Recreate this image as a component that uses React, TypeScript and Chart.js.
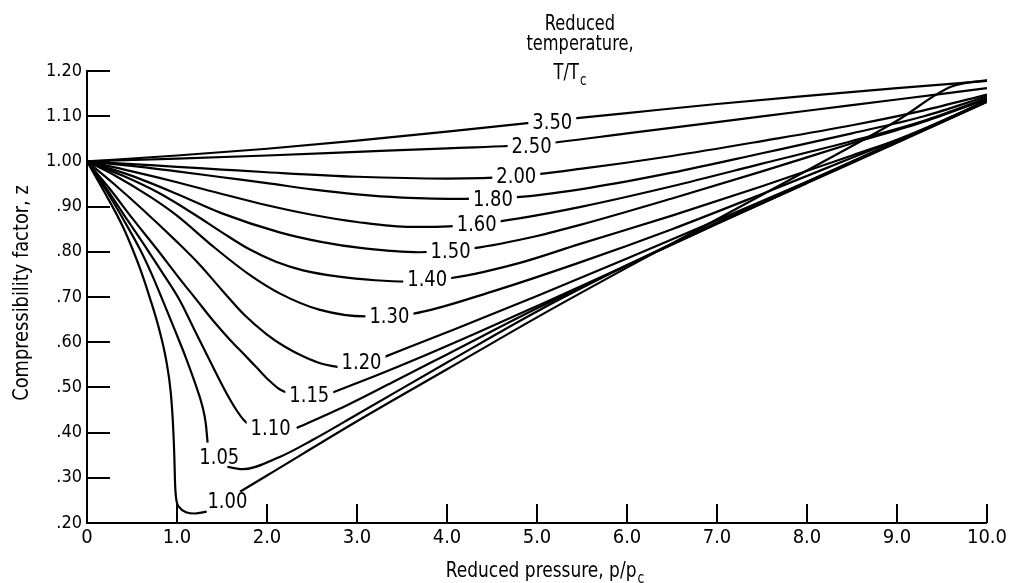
import React, { useEffect, useRef } from "react";
import { Chart, registerables } from "chart.js";

Chart.register(...registerables);

const FONT = "'Liberation Sans Narrow', 'DejaVu Sans Condensed', 'Roboto', sans-serif";

// Reduced temperature labels (one per curve)
const reducedTemps = ["3.50", "2.50", "2.00", "1.80", "1.60", "1.50", "1.40", "1.30", "1.20", "1.15", "1.10", "1.05", "1.00"];

// Curves: [reduced pressure, compressibility factor]; null marks a break in the drawn line
const t350 = [[0, 1.0], [1, 1.013], [2, 1.028], [3, 1.046], [4, 1.066], [5, 1.087], [6, 1.107], [7, 1.127], [8, 1.145], [9, 1.162], [10, 1.178]];
const t250 = [[0, 1.0], [1, 1.006], [2, 1.013], [3, 1.021], [4, 1.029], [5, 1.038], [6, 1.062], [7, 1.087], [8, 1.112], [9, 1.137], [10, 1.162]];
const t200 = [[0, 1.0], [0.5, 0.994], [1, 0.988], [1.5, 0.982], [2, 0.976], [3, 0.966], [4, 0.962], [4.75, 0.967], [5.5, 0.984], [6.5, 1.012], [7.5, 1.045], [8.5, 1.08], [9.3, 1.113], [10, 1.148]];
const t180 = [[0, 1.0], [0.5, 0.99], [1, 0.978], [1.5, 0.965], [2, 0.952], [2.5, 0.938], [3, 0.927], [3.5, 0.92], [4.2, 0.917], [4.85, 0.922], [5.6, 0.942], [6.5, 0.975], [7.5, 1.018], [8.5, 1.062], [9.3, 1.1], [10, 1.144]];
const t160 = [[0, 1.0], [0.5, 0.978], [1, 0.954], [1.5, 0.928], [2, 0.903], [2.5, 0.882], [3, 0.866], [3.6, 0.855], [4.2, 0.858], [4.8, 0.874], [5.5, 0.9], [6.5, 0.945], [7.5, 0.995], [8.5, 1.045], [9.3, 1.09], [10, 1.14]];
const t150 = [[0, 1.0], [0.5, 0.968], [1, 0.928], [1.5, 0.885], [2.14, 0.843], [2.6, 0.822], [3.06, 0.808], [3.69, 0.799], [4.3, 0.808], [5, 0.835], [5.47, 0.859], [6.5, 0.918], [7.5, 0.978], [8.5, 1.04], [9.3, 1.088], [10, 1.138]];
const t140 = [[0, 1.0], [0.4, 0.968], [0.8, 0.93], [1.2, 0.882], [1.5, 0.843], [1.8, 0.806], [2.1, 0.778], [2.4, 0.759], [2.8, 0.745], [3.2, 0.737], [3.55, 0.734], [4.05, 0.742], [4.8, 0.775], [5.47, 0.817], [6.5, 0.88], [7.5, 0.945], [8.5, 1.013], [9.3, 1.07], [10, 1.136]];
const t130 = [[0, 1.0], [0.3, 0.97], [0.7, 0.922], [1, 0.88], [1.4, 0.812], [1.8, 0.75], [2.14, 0.708], [2.58, 0.672], [3.1, 0.657], [3.62, 0.663], [4.5, 0.712], [5.47, 0.776], [6.5, 0.85], [7.5, 0.928], [8.5, 1.008], [9.3, 1.072], [10, 1.134]];
const t120 = [[0, 1.0], [0.3, 0.95], [0.6, 0.897], [1, 0.822], [1.25, 0.772], [1.5, 0.715], [1.75, 0.66], [2, 0.617], [2.2, 0.59], [2.4, 0.569], [2.6, 0.553], [2.85, 0.543], null, [3.3, 0.567], [4, 0.622], [5, 0.702], [6, 0.785], [7, 0.87], [8, 0.955], [9, 1.043], [10, 1.133]];
const t115 = [[0, 1.0], [0.25, 0.94], [0.5, 0.875], [0.78, 0.805], [1, 0.748], [1.22, 0.693], [1.4, 0.648], [1.59, 0.605], [1.75, 0.572], [1.88, 0.545], [2.02, 0.516], [2.14, 0.496], [2.27, 0.485], null, [2.72, 0.488], [3.2, 0.525], [3.7, 0.566], [4.36, 0.623], [5, 0.68], [6, 0.77], [7, 0.862], [8, 0.952], [9, 1.041], [10, 1.132]];
const t110 = [[0, 1.0], [0.2, 0.945], [0.45, 0.87], [0.67, 0.805], [0.85, 0.75], [1.03, 0.693], [1.2, 0.625], [1.4, 0.545], [1.55, 0.487], [1.66, 0.45], [1.75, 0.426], [1.82, 0.415], null, [2.33, 0.41], [2.8, 0.452], [3.4, 0.512], [4, 0.573], [5, 0.675], [6, 0.77], [7, 0.862], [8, 0.953], [9, 1.043], [10, 1.132]];
const t105 = [[0, 1.0], [0.2, 0.94], [0.4, 0.873], [0.59, 0.805], [0.72, 0.75], [0.84, 0.693], [0.98, 0.625], [1.1, 0.565], [1.2, 0.51], [1.28, 0.46], [1.32, 0.42], [1.34, 0.378], null, [1.56, 0.324], [1.73, 0.319], [2.14, 0.346], [2.5, 0.383], [3, 0.44], [4, 0.555], [5, 0.668], [6, 0.77], [7, 0.865], [8, 0.955], [9, 1.045], [10, 1.134]];
const t100 = [[0, 1.0], [0.2, 0.93], [0.4, 0.855], [0.51, 0.804], [0.6, 0.757], [0.7, 0.697], [0.8, 0.63], [0.88, 0.56], [0.93, 0.49], [0.955, 0.42], [0.97, 0.35], [0.978, 0.29], [0.99, 0.255], [1.03, 0.234], [1.1, 0.224], [1.2, 0.221], [1.33, 0.225], null, [1.7, 0.269], [2, 0.305], [3, 0.425], [4, 0.54], [5, 0.655], [6, 0.765], [7, 0.872], [8, 0.98], [9, 1.09], [9.6, 1.165], [10, 1.18]];

const curves = [t350, t250, t200, t180, t160, t150, t140, t130, t120, t115, t110, t105, t100];

// Where each curve's label sits, in data units [p/pc, z]
const labelAnchors = [[5.17, 1.089], [4.94, 1.036], [4.77, 0.969], [4.51, 0.919], [4.33, 0.863], [4.04, 0.804], [3.78, 0.741], [3.36, 0.66], [3.05, 0.558], [2.47, 0.485], [2.04, 0.412], [1.47, 0.348], [1.56, 0.249]];

const xTickValues = [0, 1, 2, 3, 4, 5, 6, 7, 8, 9, 10];
const xTickLabels = ["0", "1.0", "2.0", "3.0", "4.0", "5.0", "6.0", "7.0", "8.0", "9.0", "10.0"];
const yTickValues = [0.2, 0.3, 0.4, 0.5, 0.6, 0.7, 0.8, 0.9, 1.0, 1.1, 1.2];
const yTickLabels = [".20", ".30", ".40", ".50", ".60", ".70", ".80", ".90", "1.00", "1.10", "1.20"];

const xTitle = "Reduced pressure, p/p";
const yTitle = "Compressibility factor, z";
const legendTitle = ["Reduced", "temperature,", "T/T"];
const subscript = "c";

// draw text horizontally condensed by factor sx, centred at cx
function drawNarrow(ctx: CanvasRenderingContext2D, text: string, cx: number, base: number, size: number, sx: number) {
  ctx.save();
  ctx.translate(cx, base);
  ctx.scale(sx, 1);
  ctx.font = `${size}px ${FONT}`;
  ctx.textAlign = "center";
  ctx.fillText(text, 0, 0);
  ctx.restore();
}

function drawSub(ctx: CanvasRenderingContext2D, main: string, sub: string, cx: number, base: number, size: number, sx: number) {
  const subSize = Math.round(size * 0.72);
  ctx.font = `${size}px ${FONT}`;
  const w1 = ctx.measureText(main).width * sx;
  ctx.font = `${subSize}px ${FONT}`;
  const w2 = ctx.measureText(sub).width * sx;
  const start = cx - (w1 + w2 + 1) / 2;
  ctx.save();
  ctx.translate(start, base);
  ctx.scale(sx, 1);
  ctx.textAlign = "left";
  ctx.font = `${size}px ${FONT}`;
  ctx.fillText(main, 0, 0);
  ctx.font = `${subSize}px ${FONT}`;
  ctx.fillText(sub, (w1 + 1) / sx, 6);
  ctx.restore();
}

const annotate = {
  id: "annotate",
  afterDatasetsDraw(chart: any) {
    const { ctx, chartArea, scales } = chart;
    const x = scales.x;
    const y = scales.y;
    ctx.save();
    ctx.strokeStyle = "#000";
    ctx.lineWidth = 2;
    // inward tick marks
    yTickValues.forEach((v, i) => {
      if (i === 0) return;
      const py = Math.round(y.getPixelForValue(v));
      ctx.beginPath();
      ctx.moveTo(chartArea.left, py);
      ctx.lineTo(chartArea.left + 23, py);
      ctx.stroke();
    });
    xTickValues.forEach((v, i) => {
      if (i === 0) return;
      const px = Math.round(x.getPixelForValue(v));
      ctx.beginPath();
      ctx.moveTo(px, chartArea.bottom);
      ctx.lineTo(px, chartArea.bottom - 19);
      ctx.stroke();
    });
    // curve labels
    const size = 21;
    ctx.font = `${size}px ${FONT}`;
    ctx.textAlign = "center";
    ctx.textBaseline = "alphabetic";
    reducedTemps.forEach((t, i) => {
      const [p, z] = labelAnchors[i];
      const px = x.getPixelForValue(p);
      const py = y.getPixelForValue(z);
      const w = ctx.measureText(t).width * 0.95;
      ctx.fillStyle = "#fff";
      ctx.fillRect(px - w / 2 - 4, py - 9, w + 8, 18);
      ctx.fillStyle = "#000";
      drawNarrow(ctx, t, px, py + size * 0.36, size, 0.95);
    });
    ctx.restore();
  },
  afterDraw(chart: any) {
    const { ctx, chartArea } = chart;
    ctx.save();
    ctx.fillStyle = "#000";
    ctx.textBaseline = "alphabetic";
    // legend title
    drawNarrow(ctx, legendTitle[0], 580, 30, 22, 0.82);
    drawNarrow(ctx, legendTitle[1], 580, 50, 22, 0.82);
    drawSub(ctx, legendTitle[2], subscript, 570, 79, 22, 0.82);
    // x title
    drawSub(ctx, xTitle, subscript, (chartArea.left + chartArea.right) / 2 + 8, 577, 22, 0.86);
    // y title
    ctx.translate(22, (chartArea.top + chartArea.bottom) / 2 - 4);
    ctx.rotate(-Math.PI / 2);
    ctx.scale(0.9, 1);
    ctx.font = `22px ${FONT}`;
    ctx.textAlign = "center";
    ctx.textBaseline = "middle";
    ctx.fillText(yTitle, 0, 0);
    ctx.restore();
  },
};

export default function App() {
  const ref = useRef<HTMLCanvasElement>(null);
  useEffect(() => {
    if (!ref.current) return;
    const datasets = curves.map((c, i) => ({
      label: reducedTemps[i],
      data: c.map((pt) => (pt ? { x: pt[0], y: pt[1] } : { x: NaN, y: null })),
      showLine: true,
      borderColor: "#000",
      borderWidth: 2.2,
      pointRadius: 0,
      cubicInterpolationMode: "monotone",
      fill: false,
      spanGaps: false,
    }));
    const chart = new Chart(ref.current, {
      type: "scatter",
      data: { datasets: datasets as any },
      options: {
        animation: false,
        responsive: false,
        devicePixelRatio: 1,
        events: [],
        layout: { padding: { left: 0, top: 71, right: 21, bottom: 0 } },
        plugins: { legend: { display: false }, tooltip: { enabled: false } },
        scales: {
          x: {
            type: "linear",
            min: 0,
            max: 10,
            afterBuildTicks: (s: any) => {
              s.ticks = xTickValues.map((v) => ({ value: v }));
            },
            afterFit: (s: any) => {
              s.height = 60;
            },
            ticks: {
              callback: (_v: any, i: number) => xTickLabels[i],
              font: { family: FONT, size: 20 },
              color: "#000",
              padding: 3,
              maxRotation: 0,
              autoSkip: false,
            },
            grid: { display: false, drawTicks: false },
            border: { display: true, color: "#000", width: 2 },
          },
          y: {
            type: "linear",
            min: 0.2,
            max: 1.2,
            afterBuildTicks: (s: any) => {
              s.ticks = yTickValues.map((v) => ({ value: v }));
            },
            afterFit: (s: any) => {
              s.width = 87;
            },
            ticks: {
              callback: (_v: any, i: number) => yTickLabels[i],
              font: { family: FONT, size: 18 },
              color: "#000",
              padding: 5,
              autoSkip: false,
            },
            grid: { display: false, drawTicks: false },
            border: { display: true, color: "#000", width: 2 },
          },
        },
      },
      plugins: [annotate],
    });
    return () => chart.destroy();
  }, []);
  return (
    <div style={{ position: "absolute", left: 0, top: 0, width: 1010, height: 583, background: "#fff" }}>
      <canvas ref={ref} width={1010} height={583} style={{ display: "block", width: 1010, height: 583 }} />
    </div>
  );
}
